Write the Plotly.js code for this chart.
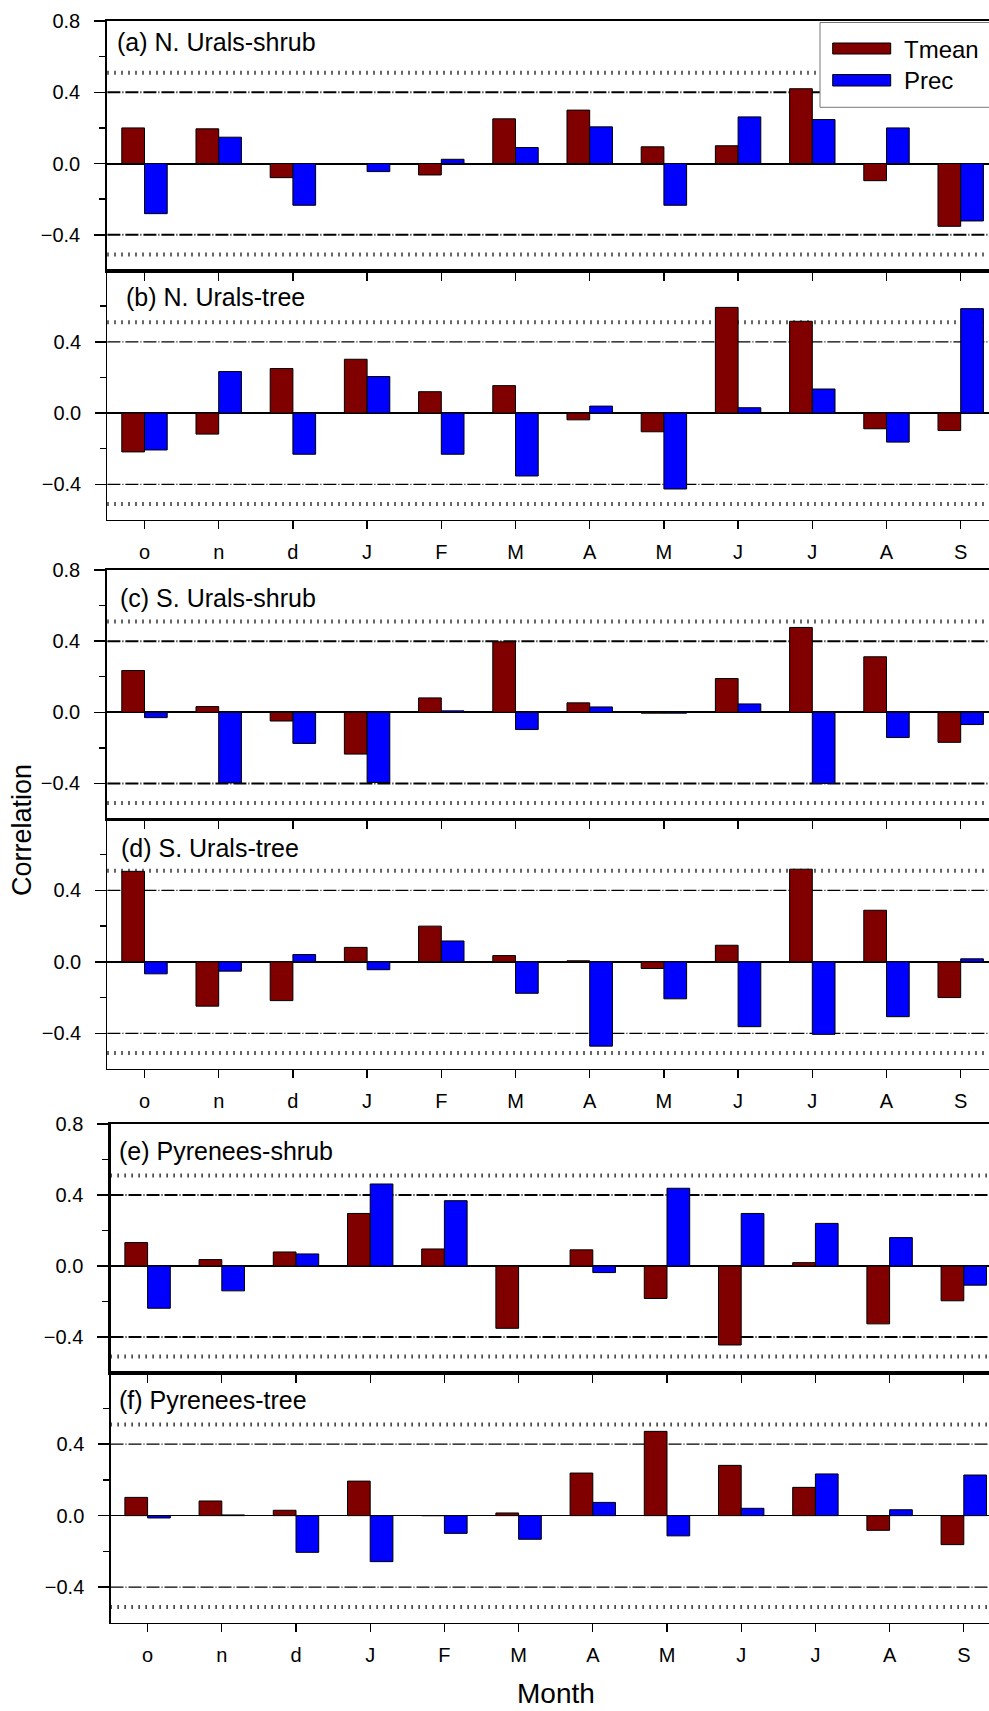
<!DOCTYPE html>
<html>
<head>
<meta charset="utf-8">
<script src="https://cdn.plot.ly/plotly-3.0.1.min.js"></script>
<style>
  html, body { margin: 0; padding: 0; overflow: hidden; background: #fff; }
  #chart { width: 1005px; height: 1711px; }
</style>
</head>
<body>
<div id="chart"></div>
<script>
// ---------------- DATA ----------------
const months = ['o', 'n', 'd', 'J', 'F', 'M', 'A', 'M', 'J', 'J', 'A', 'S'];
const seriesNames = ['Tmean', 'Prec'];
const yTickVals = [-0.4, 0.0, 0.4, 0.8];
const yMinorVals = [-0.2, 0.2, 0.6];
const sigLevel95 = 0.4;
const sigLevel99 = 0.51;

const nUralsShrubTmean = [0.200, 0.195, -0.079, 0.000, -0.064, 0.251, 0.300, 0.094, 0.100, 0.420, -0.096, -0.352];
const nUralsShrubPrec  = [-0.281, 0.148, -0.234, -0.045, 0.024, 0.090, 0.206, -0.234, 0.262, 0.247, 0.200, -0.322];

const nUralsTreeTmean = [-0.218, -0.118, 0.250, 0.302, 0.120, 0.154, -0.038, -0.105, 0.593, 0.515, -0.088, -0.098];
const nUralsTreePrec  = [-0.207, 0.233, -0.231, 0.205, -0.231, -0.353, 0.039, -0.426, 0.030, 0.135, -0.163, 0.586];

const sUralsShrubTmean = [0.235, 0.032, -0.049, -0.235, 0.081, 0.396, 0.053, -0.005, 0.190, 0.477, 0.312, -0.169];
const sUralsShrubPrec  = [-0.030, -0.397, -0.175, -0.395, 0.008, -0.097, 0.030, -0.005, 0.047, -0.400, -0.142, -0.069];

const sUralsTreeTmean = [0.507, -0.248, -0.217, 0.081, 0.200, 0.035, 0.006, -0.037, 0.093, 0.519, 0.289, -0.200];
const sUralsTreePrec  = [-0.067, -0.052, 0.041, -0.044, 0.117, -0.176, -0.472, -0.207, -0.363, -0.406, -0.307, 0.017];

const pyreneesShrubTmean = [0.132, 0.036, 0.079, 0.296, 0.096, -0.351, 0.091, -0.183, -0.445, 0.019, -0.326, -0.196];
const pyreneesShrubPrec  = [-0.238, -0.140, 0.068, 0.462, 0.368, 0.000, -0.037, 0.438, 0.296, 0.240, 0.160, -0.108];

const pyreneesTreeTmean = [0.102, 0.082, 0.030, 0.193, 0.000, 0.015, 0.238, 0.471, 0.281, 0.158, -0.082, -0.162];
const pyreneesTreePrec  = [-0.013, 0.004, -0.205, -0.257, -0.099, -0.132, 0.074, -0.113, 0.041, 0.233, 0.033, 0.227];

// ---------------- LAYOUT HELPERS ----------------
const W = 1005, H = 1711;
const px = v => v / W;
const py = v => 1 - v / H;
const FONT = 'Arial, "Liberation Sans", Helvetica, sans-serif';
const colors = { Tmean: '#800000', Prec: '#0000FF' };

const panels = [
  { label: '(a) N. Urals-shrub', tmean: nUralsShrubTmean, prec: nUralsShrubPrec, top: 21, bottom: 270.5, left: 107.4, right: 997.8, thick: true,  labels: false, lx: 114.5, ly: 42 },
  { label: '(b) N. Urals-tree',  tmean: nUralsTreeTmean,  prec: nUralsTreePrec,  top: 270.5, bottom: 520, left: 107.4, right: 997.8, thick: false, labels: true,  lx: 124, ly: 297 },
  { label: '(c) S. Urals-shrub', tmean: sUralsShrubTmean, prec: sUralsShrubPrec, top: 570, bottom: 819, left: 107.4, right: 997.8, thick: true,  labels: false, lx: 118, ly: 598 },
  { label: '(d) S. Urals-tree',  tmean: sUralsTreeTmean,  prec: sUralsTreePrec,  top: 819, bottom: 1069, left: 107.4, right: 997.8, thick: false, labels: true,  lx: 118.5, ly: 848 },
  { label: '(e) Pyrenees-shrub', tmean: pyreneesShrubTmean, prec: pyreneesShrubPrec, top: 1124, bottom: 1372.5, left: 110.5, right: 1000.9, thick: true,  labels: false, lx: 116.5, ly: 1151 },
  { label: '(f) Pyrenees-tree',  tmean: pyreneesTreeTmean,  prec: pyreneesTreePrec,  top: 1372.5, bottom: 1623, left: 110.5, right: 1000.9, thick: false, labels: true,  lx: 116.5, ly: 1400 }
];

const xIdx = months.map((m, i) => i);
const traces = [];
const shapes = [];
const annotations = [];
const layout = {
  width: W, height: H,
  margin: { l: 0, r: 0, t: 0, b: 0 },
  paper_bgcolor: '#ffffff', plot_bgcolor: '#ffffff',
  barmode: 'group', bargap: 0.388, bargroupgap: 0,
  showlegend: false,
  font: { family: FONT, color: '#000' }
};

panels.forEach((p, k) => {
  const n = k + 1;
  const xa = 'x' + (n === 1 ? '' : n);
  const ya = 'y' + (n === 1 ? '' : n);
  const xKey = 'xaxis' + (n === 1 ? '' : n);
  const yKey = 'yaxis' + (n === 1 ? '' : n);
  const lw = p.thick ? 2.2 : 1.2;

  [['Tmean', p.tmean], ['Prec', p.prec]].forEach(([name, vals]) => {
    traces.push({
      type: 'bar', name: name, x: xIdx, y: vals, xaxis: xa, yaxis: ya,
      marker: { color: colors[name], line: { color: '#000', width: 1 } },
      hoverinfo: 'x+y+name'
    });
  });

  layout[xKey] = {
    domain: [px(p.left), px(p.right)],
    anchor: ya,
    range: [-0.5, 11.5],
    tickmode: 'array', tickvals: xIdx, ticktext: months,
    showticklabels: p.labels,
    ticks: 'outside', ticklen: 8, tickwidth: 1.3, tickcolor: '#000',
    tickfont: { size: 20, family: FONT, color: '#000' },
    ticklabelstandoff: 6,
    showline: true, linecolor: '#000', linewidth: lw, mirror: true,
    showgrid: false, zeroline: false, fixedrange: true
  };
  layout[yKey] = {
    domain: [py(p.bottom), py(p.top)],
    anchor: xa,
    range: [-0.6, 0.8],
    tickmode: 'array',
    tickvals: p.labels ? yTickVals.slice(0, 3) : yTickVals,
    tickformat: '.1f',
    ticks: 'outside', ticklen: 11, tickwidth: 1.5, tickcolor: '#000',
    minor: { tickmode: 'array', tickvals: yMinorVals, ticks: 'outside', ticklen: 6, tickwidth: 1.5, tickcolor: '#000' },
    tickfont: { size: 20, family: FONT, color: '#000' },
    ticklabelstandoff: 10,
    showline: true, linecolor: '#000', linewidth: lw, mirror: true,
    showgrid: false,
    zeroline: true, zerolinecolor: '#000', zerolinewidth: p.thick ? 2 : 1.3,
    fixedrange: true
  };

  // significance lines
  [sigLevel95, -sigLevel95].forEach(v => {
    shapes.push({
      type: 'line', layer: 'below', xref: xa + ' domain', yref: ya,
      x0: 0, x1: 1, y0: v, y1: v,
      line: { color: '#000', width: p.thick ? 2 : 1.2, dash: '13px,2px,1px,2px' }
    });
  });
  [sigLevel99, -sigLevel99].forEach(v => {
    shapes.push({
      type: 'line', layer: 'below', xref: xa + ' domain', yref: ya,
      x0: 0, x1: 1, y0: v, y1: v,
      line: { color: '#000', width: 4, dash: '1.2px,5.8px' }
    });
  });

  annotations.push({
    text: p.label, xref: 'paper', yref: 'paper',
    x: px(p.lx), y: py(p.ly), xanchor: 'left', yanchor: 'middle',
    showarrow: false, font: { size: 25, family: FONT, color: '#000' }
  });
});

// custom legend box (top right of panel a)
shapes.push({ type: 'rect', layer: 'above', xref: 'paper', yref: 'paper',
  x0: px(820), x1: px(1004), y0: py(107.3), y1: py(22.5),
  fillcolor: '#fff', line: { color: '#777', width: 1 } });
shapes.push({ type: 'rect', layer: 'above', xref: 'paper', yref: 'paper',
  x0: px(832.7), x1: px(890.7), y0: py(54), y1: py(43),
  fillcolor: colors.Tmean, line: { color: '#000', width: 1 } });
shapes.push({ type: 'rect', layer: 'above', xref: 'paper', yref: 'paper',
  x0: px(832.7), x1: px(890.7), y0: py(86), y1: py(74.5),
  fillcolor: colors.Prec, line: { color: '#000', width: 1 } });
annotations.push({ text: seriesNames[0], xref: 'paper', yref: 'paper', x: px(902), y: py(49), xanchor: 'left', yanchor: 'middle',
  showarrow: false, font: { size: 24, family: FONT, color: '#000' } });
annotations.push({ text: seriesNames[1], xref: 'paper', yref: 'paper', x: px(902), y: py(80.5), xanchor: 'left', yanchor: 'middle',
  showarrow: false, font: { size: 24, family: FONT, color: '#000' } });

// axis titles
annotations.push({ text: 'Correlation', xref: 'paper', yref: 'paper', x: px(22), y: py(830),
  xanchor: 'center', yanchor: 'middle', textangle: -90, showarrow: false,
  font: { size: 27, family: FONT, color: '#000' } });
annotations.push({ text: 'Month', xref: 'paper', yref: 'paper', x: px(556), y: py(1693),
  xanchor: 'center', yanchor: 'middle', showarrow: false,
  font: { size: 28, family: FONT, color: '#000' } });

layout.shapes = shapes;
layout.annotations = annotations;

Plotly.newPlot('chart', traces, layout, { staticPlot: true, displayModeBar: false });
</script>
</body>
</html>
